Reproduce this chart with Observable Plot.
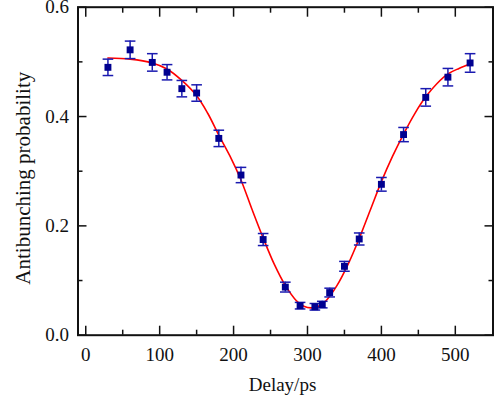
<!DOCTYPE html>
<html><head><meta charset="utf-8">
<script src="https://cdn.jsdelivr.net/npm/d3@7"></script>
<script src="https://cdn.jsdelivr.net/npm/@observablehq/plot@0.6"></script>
<style>body{margin:0;background:#fff;}</style>
</head><body><div id="chart"></div>
<script>
const delay = [30,60,90,110,130,150,180,210,240,270,290,310,320,330,350,370,400,430,460,490,520];
const prob  = [0.490,0.522,0.499,0.481,0.451,0.443,0.360,0.293,0.175,0.088,0.054,0.052,0.056,0.078,0.126,0.176,0.276,0.367,0.435,0.472,0.498];
const err   = [0.015,0.016,0.016,0.014,0.015,0.015,0.015,0.014,0.011,0.009,0.006,0.006,0.006,0.008,0.009,0.011,0.0125,0.013,0.016,0.016,0.017];
const fitDelay = [30,60,90,110,130,150,165,180,195,210,225,240,255,270,285,295,305,315,325,340,355,370,385,400,415,430,445,460,475,490,505,520];
const fitProb  = [0.507,0.505,0.498,0.487,0.466,0.438,0.406,0.366,0.328,0.284,0.230,0.178,0.130,0.091,0.063,0.053,0.050,0.053,0.063,0.091,0.130,0.177,0.229,0.281,0.327,0.368,0.405,0.436,0.460,0.478,0.488,0.496];
const xMajor = [0,100,200,300,400,500];
const xMinor = [50,150,250,350,450];
const yMajor = [0,0.2,0.4,0.6];
const yMinor = [0.1,0.3,0.5];

const points = delay.map((d,i)=>({delay:d, p:prob[i], lo:prob[i]-err[i], hi:prob[i]+err[i]}));
const fit = fitDelay.map((d,i)=>({delay:d, p:fitProb[i]}));
const cap = {draw(ctx, size){ const w = Math.sqrt(size); ctx.moveTo(-w,0); ctx.lineTo(w,0);} };

const font = "'Liberation Serif','Times New Roman',serif";
const ink = "#111";
const tickOpts = {fill:"none", stroke: ink, strokeWidth:1.5, label:null};

const chart = Plot.plot({
  width: 495, height: 402,
  marginLeft: 77.5, marginRight: 2.5, marginTop: 6.7, marginBottom: 67.3,
  style: {fontFamily: font, fontSize: "19px", color: ink, background: "#fff"},
  x: {domain: [-10.5, 551]},
  y: {domain: [0, 0.6]},
  marks: [
    // ticks (inward) on all four sides
    Plot.axisX(xMajor, {...tickOpts, anchor:"bottom", tickSize:-9}),
    Plot.axisX(xMinor, {...tickOpts, anchor:"bottom", tickSize:-5}),
    Plot.axisX(xMajor, {...tickOpts, anchor:"top", tickSize:-9}),
    Plot.axisX(xMinor, {...tickOpts, anchor:"top", tickSize:-5}),
    Plot.axisY(yMajor, {...tickOpts, anchor:"left", tickSize:-9}),
    Plot.axisY(yMinor, {...tickOpts, anchor:"left", tickSize:-5}),
    Plot.axisY(yMajor, {...tickOpts, anchor:"right", tickSize:-9}),
    Plot.axisY(yMinor, {...tickOpts, anchor:"right", tickSize:-5}),
    // tick labels
    Plot.axisX(xMajor, {anchor:"bottom", tickSize:0, tickPadding:12, label:null, tickFormat: d3.format("d"), fill: ink}),
    Plot.axisY(yMajor, {anchor:"left", tickSize:0, tickPadding:9, label:null, tickFormat: d3.format(".1f"), fill: ink}),
    // axis titles
    Plot.text(["Delay/ps"], {text: d=>d, frameAnchor:"bottom", textAnchor:"middle", dy: 56, dx: -3, fill: ink}),
    Plot.text(["Antibunching probability"], {text: d=>d, frameAnchor:"left", textAnchor:"middle", rotate:-90, dx:-54.5, dy:7, fontSize: 21, fill: ink}),
    // fit curve
    Plot.line(fit, {x:"delay", y:"p", stroke:"#ff0000", strokeWidth:1.6, curve:"catmull-rom"}),
    // error bars
    Plot.ruleX(points, {x:"delay", y1:"lo", y2:"hi", stroke:"#1a1ab0", strokeWidth:1.5}),
    Plot.dot(points, {x:"delay", y:"lo", symbol: cap, r:3, stroke:"#1a1ab0", strokeWidth:1.5, fill:"none"}),
    Plot.dot(points, {x:"delay", y:"hi", symbol: cap, r:3, stroke:"#1a1ab0", strokeWidth:1.5, fill:"none"}),
    // markers
    Plot.dot(points, {x:"delay", y:"p", symbol:"square", r:3.9, fill:"#000090", stroke:"none"}),
    Plot.frame({stroke: ink, strokeWidth: 2})
  ]
});
document.getElementById("chart").appendChild(chart);
</script>
</body></html>
